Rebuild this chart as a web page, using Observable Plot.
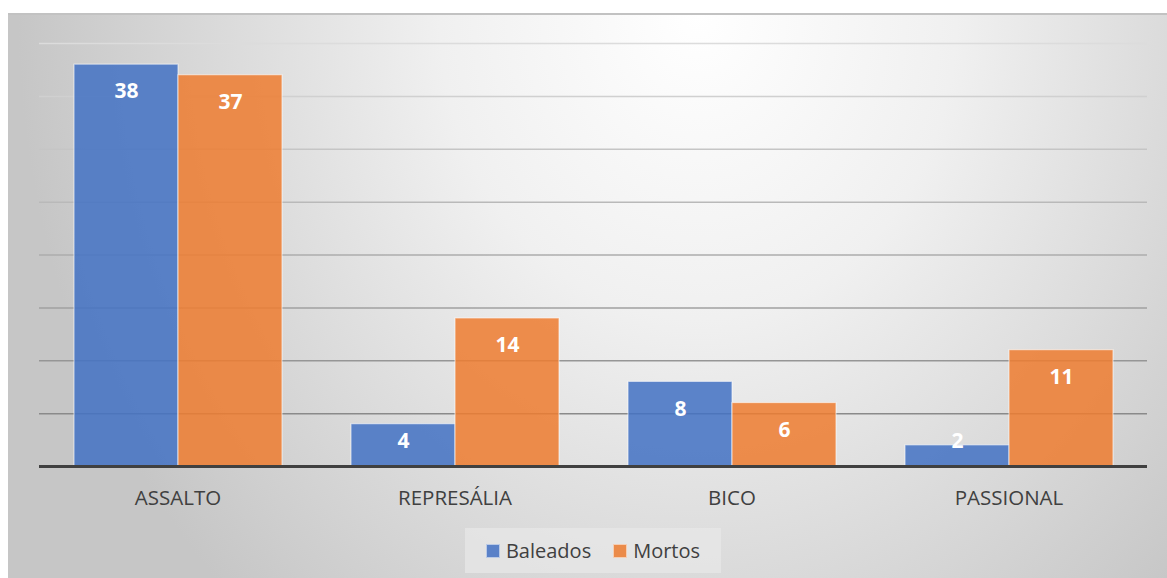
<!DOCTYPE html>
<html>
<head>
<meta charset="utf-8">
<script src="https://cdn.jsdelivr.net/npm/d3@7"></script>
<script src="https://cdn.jsdelivr.net/npm/@observablehq/plot@0.6"></script>
<style>
  body { margin: 0; background: #ffffff; font-family: "Open Sans", sans-serif; }
  #frame {
    position: absolute; left: 8px; top: 13px; width: 1159px; height: 563px;
    border-top: 2px solid #c2c2c2; overflow: hidden;
    background: radial-gradient(ellipse 680px 800px at 690px 0px, #ffffff 0%, #f0f0f0 38%, #d9d9d9 72%, #c6c6c6 100%);
  }
  #legend {
    position: absolute; left: 457px; top: 513px; width: 256px; height: 45px;
    background: rgba(232,232,232,0.7);
    display: flex; align-items: center; justify-content: center; gap: 22px;
    font-size: 20px; color: #404040;
  }
  .item { display: flex; align-items: center; gap: 6px; }
  .sw { width: 12px; height: 12px; border: 1px solid rgba(255,255,255,0.6); opacity: 0.86; }
</style>
</head>
<body>
<div id="frame"></div>
<script>
const categories = ["ASSALTO", "REPRESÁLIA", "BICO", "PASSIONAL"];
const series = ["Baleados", "Mortos"];
const baleados = [38, 4, 8, 2];
const mortos = [37, 14, 6, 11];
const yTicks = [5, 10, 15, 20, 25, 30, 35, 40];
const colors = ["#4472C4", "#ED7D31"];

const values = {Baleados: baleados, Mortos: mortos};
const rows = categories.flatMap((c, i) => series.map(s => ({category: c, series: s, value: values[s][i]})));
const gridColor = d3.scaleLinear().domain([5, 40]).range(["#8a8a8a", "#dcdcdc"]);
const fillOf = d => colors[series.indexOf(d.series)];

const chart = Plot.plot({
  width: 1159, height: 500,
  marginLeft: 30, marginRight: 18, marginTop: 28, marginBottom: 49,
  style: {background: "transparent", fontFamily: "'Open Sans', sans-serif", fontSize: "20.5px", color: "#404040", overflow: "visible"},
  facet: {data: rows, x: "category"},
  fx: {domain: categories, paddingInner: 0.244, paddingOuter: 0.122, label: null, tickSize: 0, tickPadding: 24, axis: "bottom"},
  x: {domain: series, padding: 0, axis: null},
  y: {domain: [0, 40], axis: null},
  color: {type: "identity"},
  marks: [
    Plot.ruleY(yTicks, {facet: false, stroke: d => gridColor(d), strokeWidth: 1.5, insetLeft: -34, insetRight: -34}),
    Plot.barY(rows, {x: "series", y: "value", fill: fillOf, fillOpacity: 0.86, stroke: "#ffffff", strokeOpacity: 0.55, strokeWidth: 1.2}),
    Plot.ruleY([0], {facet: false, stroke: "#404040", strokeWidth: 3, insetLeft: -34, insetRight: -34}),
    Plot.text(rows, {filter: d => d.value >= 5, x: "series", y: "value", text: d => String(d.value), dy: 27, fill: "white", fontWeight: "bold", fontSize: 21}),
    Plot.text(rows, {filter: d => d.value < 5, x: "series", y: () => 0, text: d => String(d.value), dy: -25, fill: "white", fontWeight: "bold", fontSize: 21})
  ]
});
const frame = document.getElementById("frame");
frame.appendChild(chart);

const legend = document.createElement("div");
legend.id = "legend";
series.forEach((s, i) => {
  const item = document.createElement("div");
  item.className = "item";
  const sw = document.createElement("span");
  sw.className = "sw";
  sw.style.background = colors[i];
  const t = document.createElement("span");
  t.textContent = s;
  item.appendChild(sw); item.appendChild(t);
  legend.appendChild(item);
});
frame.appendChild(legend);
</script>
</body>
</html>
